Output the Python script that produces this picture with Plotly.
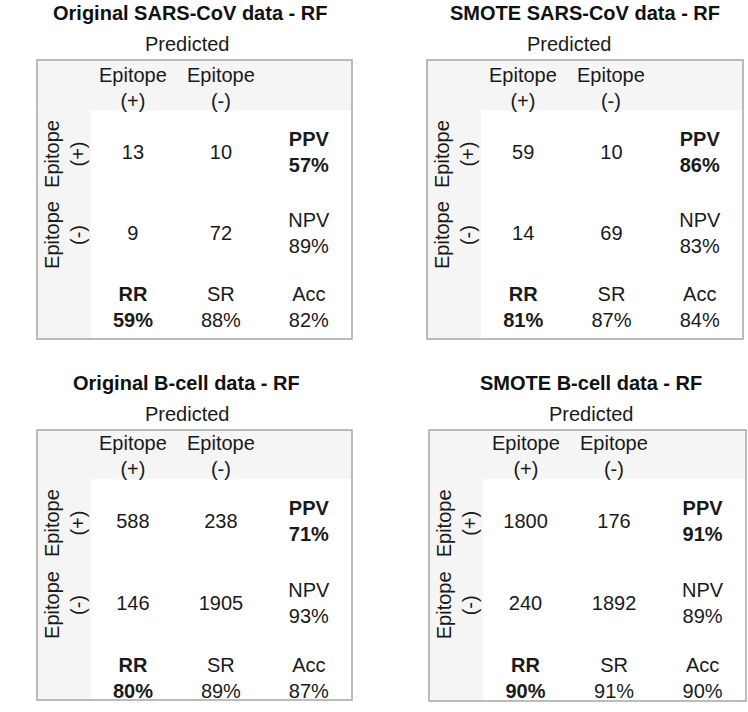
import plotly.graph_objects as go

# ---- data ----
titles = ["Original SARS-CoV data - RF", "SMOTE SARS-CoV data - RF",
          "Original B-cell data - RF", "SMOTE B-cell data - RF"]
col_labels = ["Epitope<br>(+)", "Epitope<br>(-)"]
row_labels = ["Epitope<br>(+)", "Epitope<br>(-)"]
tp = [13, 59, 588, 1800]
fn = [10, 10, 238, 176]
fp = [9, 14, 146, 240]
tn = [72, 69, 1905, 1892]
ppv = [57, 86, 71, 91]
npv = [89, 83, 93, 89]
rr = [59, 81, 80, 90]
sr = [88, 87, 89, 91]
acc = [82, 84, 87, 90]

# ---- layout constants ----
W, H = 748, 712
FONT = "Liberation Sans, Arial, sans-serif"
FS = 20
TXT = "#1a1a1a"
BAND = "#f5f5f5"
BORDER = "#a6a6a6"

# box pixel extents per panel: (left, right, top, bottom)
boxes = [(37, 352, 60, 339), (427, 743, 60, 339),
         (37, 352, 430, 700), (429, 746, 430, 701)]
xr = [-1.09, 2.49]
yranges = [[2.39, -1.21], [2.39, -1.21], [2.26, -1.185], [2.27, -1.185]]
title_x = [0.65, 0.70, 0.61, 0.74]
pred_x = [0.625, 0.53, 0.625, 0.74]
row_pos = [0, 1.045, 2]
band_y = -0.56
band_x = -0.477

fig = go.Figure()
layout = dict(width=W, height=H, margin=dict(l=0, r=0, t=0, b=0),
              paper_bgcolor="white", plot_bgcolor="white",
              showlegend=False, font=dict(family=FONT, size=FS, color=TXT))
shapes, annos = [], []

def b(s):
    return "<b>" + s + "</b>"

def ann(**kw):
    d = dict(showarrow=False, xanchor="center", yanchor="middle",
             font=dict(size=FS, color=TXT))
    d.update(kw)
    annos.append(d)

for i in range(4):
    n = "" if i == 0 else str(i + 1)
    L, R, T, B = boxes[i]
    layout["xaxis" + n] = dict(domain=[L / W, R / W], range=xr, visible=False,
                               fixedrange=True, anchor="y" + n)
    layout["yaxis" + n] = dict(domain=[1 - B / H, 1 - T / H], range=yranges[i],
                               visible=False, fixedrange=True, anchor="x" + n)
    xref, yref = "x" + n, "y" + n
    y0, y1 = yranges[i]
    # header bands
    shapes.append(dict(type="rect", xref=xref, yref=yref, x0=xr[0], x1=xr[1],
                       y0=y1, y1=band_y, fillcolor=BAND, line_width=0, layer="below"))
    shapes.append(dict(type="rect", xref=xref, yref=yref, x0=xr[0], x1=band_x,
                       y0=band_y, y1=y0, fillcolor=BAND, line_width=0, layer="below"))
    # border
    shapes.append(dict(type="rect", xref=xref + " domain", yref=yref + " domain",
                       x0=0, x1=1, y0=0, y1=1, line=dict(color=BORDER, width=1.5),
                       fillcolor="rgba(0,0,0,0)", layer="above"))
    # counts and metrics
    xs = [0, 1, 2, 0, 1, 2, 0, 1, 2]
    ys = [row_pos[k // 3] for k in range(9)]
    texts = [str(tp[i]), str(fn[i]), b("PPV<br>%d%%" % ppv[i]),
             str(fp[i]), str(tn[i]), "NPV<br>%d%%" % npv[i],
             b("RR<br>%d%%" % rr[i]), "SR<br>%d%%" % sr[i], "Acc<br>%d%%" % acc[i]]
    fig.add_trace(go.Scatter(x=xs, y=ys, mode="text", text=texts,
                             textposition="middle center",
                             textfont=dict(family=FONT, size=FS, color=TXT),
                             hoverinfo="skip", xaxis=xref, yaxis=yref))
    # column headers
    for c, lab in enumerate(col_labels):
        ann(xref=xref, yref=yref, x=c, y=-0.85, text=lab)
    # row headers
    for r, lab in enumerate(row_labels):
        ann(xref=xref, yref=yref, x=-0.77, y=row_pos[r], text=lab, textangle=-90)
    # axis titles
    ann(xref=xref, yref=yref, x=-1.36, y=0.52, text="Actual", textangle=-90)
    ann(xref=xref, yref="paper", x=pred_x[i], y=1 - (T - 16) / H, text="Predicted")
    ann(xref=xref, yref="paper", x=title_x[i], y=1 - (T - 47) / H,
        text=b(titles[i]), font=dict(size=FS, color="#111"))

layout["shapes"] = shapes
layout["annotations"] = annos
fig.update_layout(**layout)
fig.write_html("out.html", config={"displayModeBar": False},
               post_script="document.body.style.margin='0';document.body.style.padding='0';")
